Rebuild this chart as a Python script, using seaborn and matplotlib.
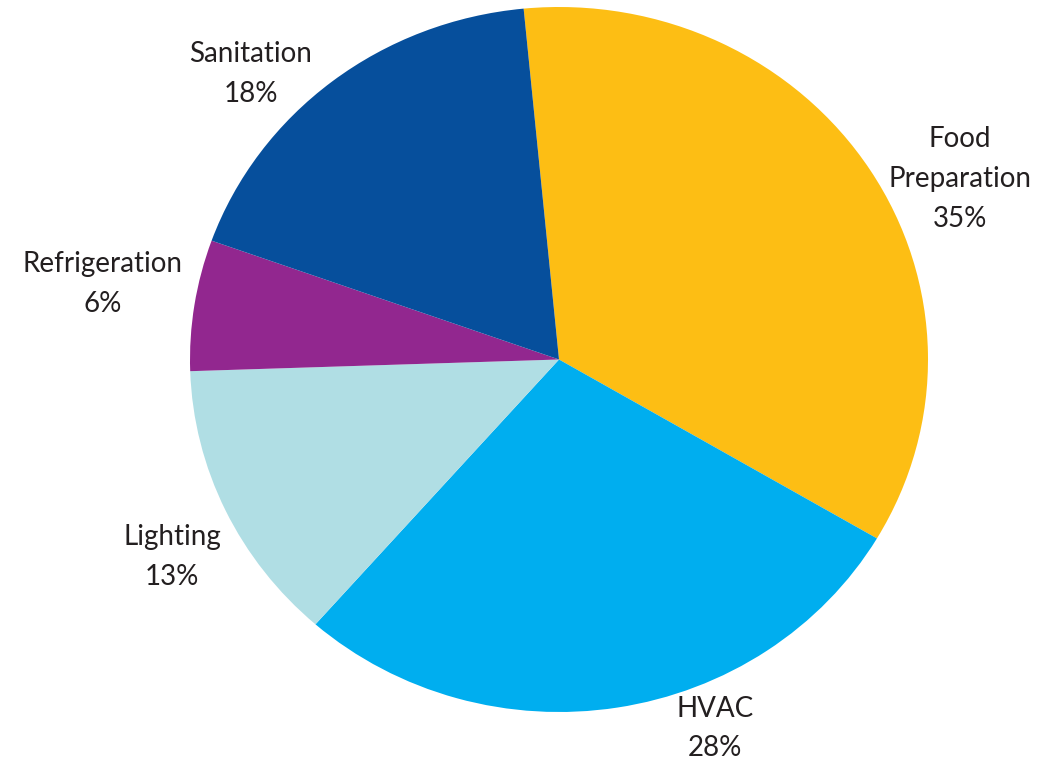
import matplotlib
matplotlib.use("Agg")
import matplotlib.pyplot as plt
import seaborn as sns

# Share of energy use by end use
categories = ["Food\nPreparation", "HVAC", "Lighting", "Refrigeration", "Sanitation"]
shares = [35, 28, 13, 6, 18]
colors = ["#FDBE14", "#00AEEF", "#B0DEE4", "#92278F", "#064F9C"]

# Label anchor points (data units of the pie axes)
label_xy = [(1.087, 0.513), (0.423, -1.047), (-1.049, -0.560),
            (-1.236, 0.214), (-0.835, 0.810)]

sns.set_theme(style="white")
plt.rcParams["font.family"] = ["Lato", "DejaVu Sans"]

fig = plt.figure(figsize=(10.61, 7.61), dpi=100)
ax = fig.add_axes([190 / 1061, 49 / 761, 738 / 1061, 705 / 761])

ax.pie(shares, colors=colors, startangle=95.5, counterclock=False,
       wedgeprops=dict(linewidth=0, antialiased=True))
ax.set_aspect("auto")
ax.set_xlim(-1, 1)
ax.set_ylim(-1, 1)
ax.axis("off")

for name, val, (x, y) in zip(categories, shares, label_xy):
    ax.text(x, y, f"{name}\n{val}%", ha="center", va="center",
            multialignment="center", fontsize=20, color="#231F20",
            linespacing=1.66, clip_on=False)

fig.savefig("out.png", dpi=100, facecolor="white")
